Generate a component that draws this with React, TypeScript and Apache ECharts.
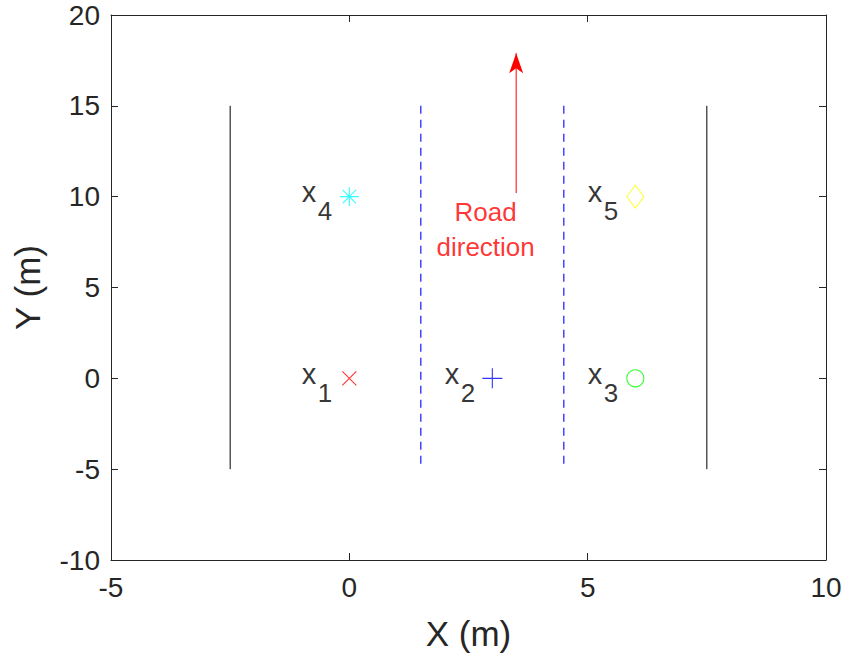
import React, { useEffect, useRef } from 'react';
import * as echarts from 'echarts';

// ---- data ----
const xRange = [-5, 10];
const yRange = [-10, 20];
const tickStep = 5;
const roadEdgeX = [-2.5, 7.5];
const laneDividerX = [1.5, 4.5];
const roadYRange = [15, -5];
const arrowX = 3.5;
const arrowY = [10.2, 17.9];
const pointLabels = ['1', '2', '3', '4', '5'];
const pointX = [0, 3, 6, 0, 6];
const pointY = [0, 0, 0, 10, 10];
const annotationText = 'Road\ndirection';
const annotationPos = [2.86, 8.2];

// ---- styles ----
const FONT = '"Liberation Sans", Arial, Helvetica, sans-serif';
const AXIS_COLOR = '#262626';
const pointColors = ['#ff0000', '#0000ff', '#00ff00', '#00ffff', '#ffff00'];
const pointSymbols = [
  'path://M0,0L1,1M1,0L0,1',
  'path://M0,1L2,1M1,0L1,2',
  'circle',
  'path://M1,0L1,2M0,1L2,1M0.293,0.293L1.707,1.707M1.707,0.293L0.293,1.707',
  'diamond',
];
const pointSizes: any[] = [14, 20, 17, 19, [17, 23]];

export default function App() {
  const ref = useRef<HTMLDivElement>(null);
  useEffect(() => {
    if (!ref.current) return;
    const chart = echarts.init(ref.current, undefined, { renderer: 'svg' });

    const series: any[] = [];
    roadEdgeX.forEach((x) => {
      series.push({
        type: 'line',
        data: roadYRange.map((y) => [x, y]),
        symbol: 'none',
        lineStyle: { color: '#000000', width: 1 },
        silent: true,
      });
    });
    laneDividerX.forEach((x) => {
      series.push({
        type: 'line',
        data: roadYRange.map((y) => [x, y]),
        symbol: 'none',
        lineStyle: { color: '#0000ff', width: 1.1, type: [8, 6] },
        silent: true,
      });
    });
    series.push({
      type: 'line',
      showSymbol: true,
      data: [
        { value: [arrowX, arrowY[0]], symbol: 'none' },
        { value: [arrowX, arrowY[1]], symbol: 'arrow', symbolSize: [10.5, 20] },
      ],
      itemStyle: { color: '#ff0000' },
      lineStyle: { color: '#ff0000', width: 1 },
      silent: true,
    });
    pointX.forEach((x, i) => {
      series.push({
        type: 'scatter',
        data: [[x, pointY[i]]],
        symbol: pointSymbols[i],
        symbolSize: pointSizes[i],
        itemStyle: { color: 'transparent', borderColor: pointColors[i], borderWidth: 1.1 },
        silent: true,
      });
    });
    const labelData = pointX.map((x, i) => ({ name: pointLabels[i], value: [x, pointY[i]] }));
    // main "x" glyph
    series.push({
      type: 'scatter',
      data: labelData,
      symbolSize: 1,
      itemStyle: { color: 'transparent' },
      silent: true,
      label: {
        show: true,
        position: [-47, -4],
        align: 'left',
        verticalAlign: 'middle',
        formatter: 'x',
        color: '#000000',
        fontSize: 29,
        fontFamily: FONT,
      },
    });
    // subscript index
    series.push({
      type: 'scatter',
      data: labelData,
      symbolSize: 1,
      itemStyle: { color: 'transparent' },
      silent: true,
      label: {
        show: true,
        position: [-31, 15],
        align: 'left',
        verticalAlign: 'middle',
        formatter: '{b}',
        color: '#000000',
        fontSize: 26,
        fontFamily: FONT,
      },
    });
    series.push({
      type: 'scatter',
      data: [annotationPos],
      symbolSize: 1,
      itemStyle: { color: 'transparent' },
      silent: true,
      label: {
        show: true,
        position: 'inside',
        formatter: annotationText,
        color: '#ff0000',
        fontSize: 26,
        lineHeight: 35,
        align: 'center',
        fontFamily: FONT,
      },
    });

    const baseX = {
      type: 'value',
      min: xRange[0],
      max: xRange[1],
      interval: tickStep,
      splitLine: { show: false },
      axisLine: { show: true, onZero: false, lineStyle: { color: AXIS_COLOR, width: 1 } },
      axisTick: { show: true, inside: true, length: 7, lineStyle: { color: AXIS_COLOR } },
    };
    const baseY = {
      type: 'value',
      min: yRange[0],
      max: yRange[1],
      interval: tickStep,
      splitLine: { show: false },
      axisLine: { show: true, onZero: false, lineStyle: { color: AXIS_COLOR, width: 1 } },
      axisTick: { show: true, inside: true, length: 7, lineStyle: { color: AXIS_COLOR } },
    };

    chart.setOption({
      animation: false,
      backgroundColor: '#ffffff',
      textStyle: { fontFamily: FONT },
      grid: { left: 111, right: 21, top: 15, bottom: 99 },
      xAxis: [
        {
          ...baseX,
          position: 'bottom',
          axisLabel: { margin: 13, fontSize: 28, color: AXIS_COLOR, fontFamily: FONT },
          name: 'X (m)',
          nameLocation: 'middle',
          nameGap: 56,
          nameTextStyle: { fontSize: 35, color: AXIS_COLOR, fontFamily: FONT },
        },
        { ...baseX, position: 'top', axisLabel: { show: false } },
      ],
      yAxis: [
        {
          ...baseY,
          position: 'left',
          axisLabel: { margin: 11, fontSize: 28, color: AXIS_COLOR, fontFamily: FONT },
          name: 'Y (m)',
          nameLocation: 'middle',
          nameGap: 66,
          nameTextStyle: { fontSize: 35, color: AXIS_COLOR, fontFamily: FONT },
        },
        { ...baseY, position: 'right', axisLabel: { show: false } },
      ],
      series,
    });

    return () => chart.dispose();
  }, []);

  return (
    <div
      ref={ref}
      style={{ position: 'fixed', left: 0, top: 0, width: 847, height: 659, background: '#fff' }}
    />
  );
}
